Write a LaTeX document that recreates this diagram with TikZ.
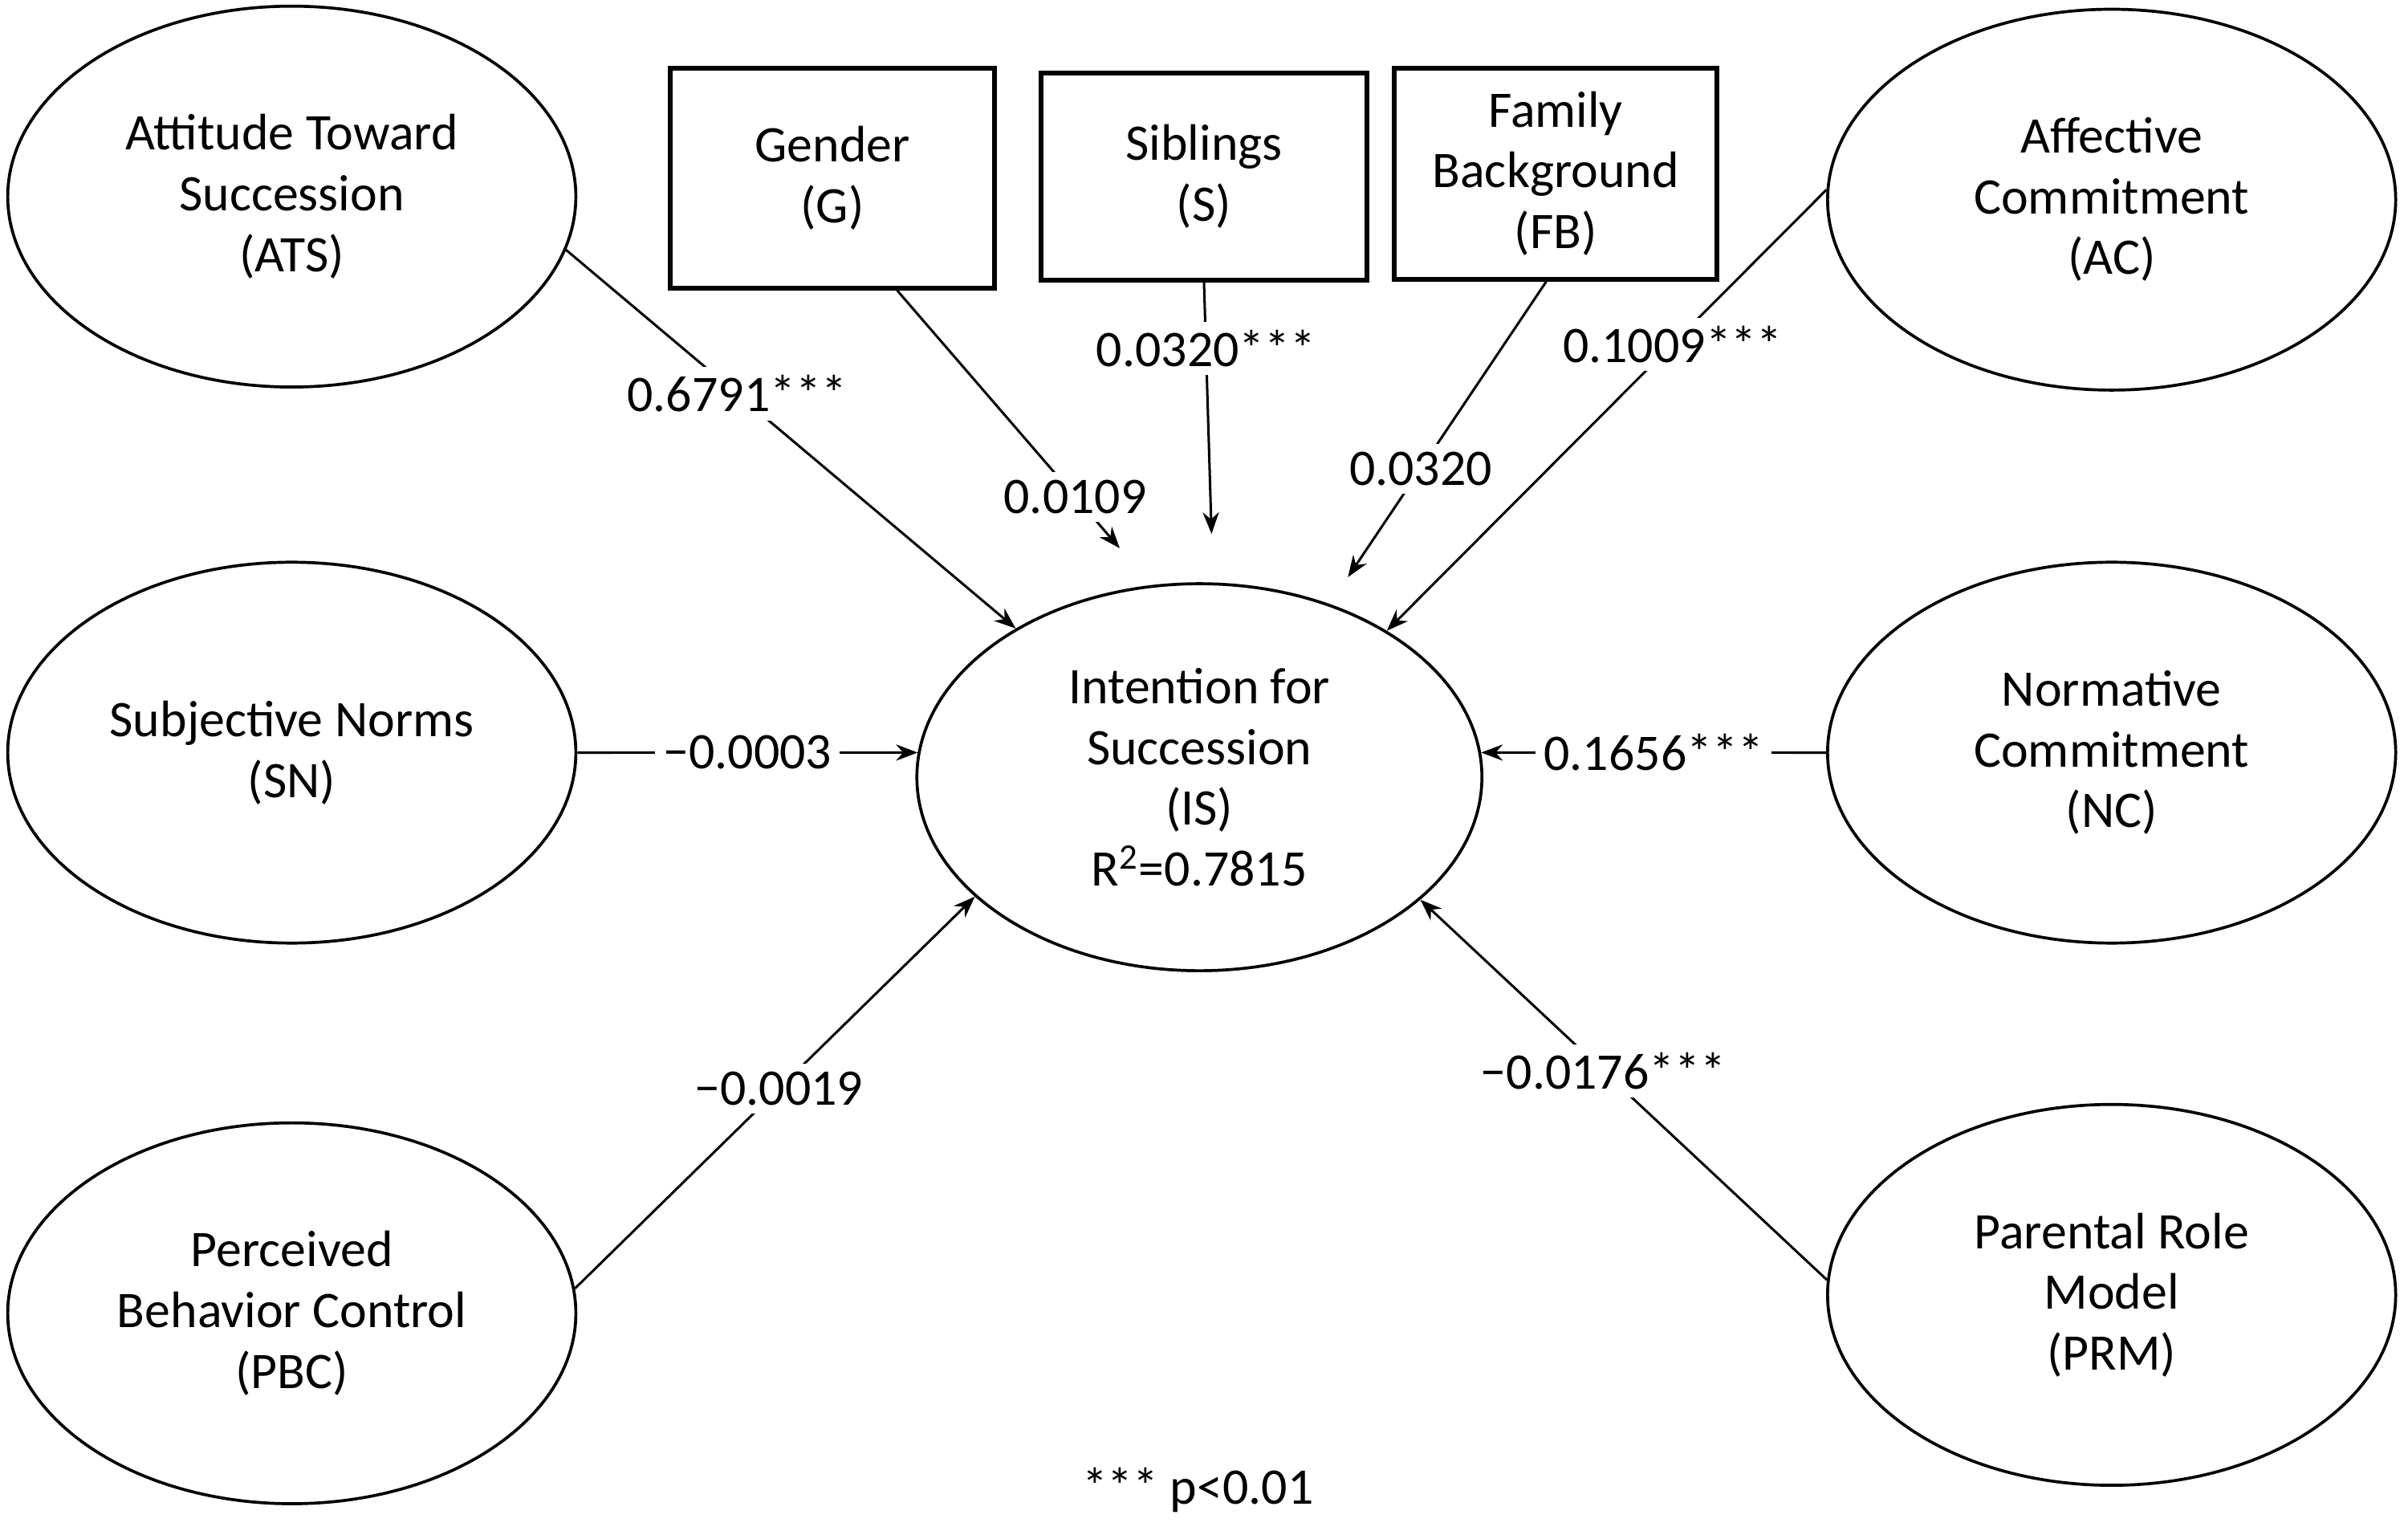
\documentclass[tikz,border=0pt]{standalone}
\usepackage{fontspec}
\setmainfont{Carlito}
\usetikzlibrary{shapes.geometric,arrows.meta}
\begin{document}
\begin{tikzpicture}[x=0.02cm,y=-0.02cm,
  every node/.style={font=\fontsize{19}{22.5}\selectfont,align=center},
  lat/.style={draw,ellipse,line width=1.1pt,minimum width=7.4cm,minimum height=4.96cm,inner sep=0pt},
  box/.style={draw,rectangle,line width=1.8pt,minimum width=4.2cm,minimum height=2.75cm,inner sep=0pt},
  path/.style={line width=0.9pt,-{Stealth[length=8pt,width=6pt]}},
  lab/.style={fill=white,inner sep=3pt}]
\useasboundingbox (0,0) rectangle (1568,999);
\node[lat] (ATS) at (190,128) {Attitude Toward\\Succession\\(ATS)};
\node[lat] (SN) at (190,490) {Subjective Norms\\(SN)};
\node[lat] (PBC) at (190,855) {Perceived\\Behavior Control\\(PBC)};
\node[lat] (AC) at (1375,130) {Affective\\Commitment\\(AC)};
\node[lat] (NC) at (1375,490) {Normative\\Commitment\\(NC)};
\node[lat] (PRM) at (1375,843) {Parental Role\\Model\\(PRM)};
\node[lat,minimum width=7.36cm,minimum height=5.04cm] (IS) at (781,506) {Intention for\\Succession\\(IS)\\R\textsuperscript{2}=0.7815};
\node[box,minimum width=4.22cm,minimum height=2.86cm] (G) at (542,116) {Gender\\(G)};
\node[box,minimum width=4.24cm,minimum height=2.7cm] (S) at (784,115) {Siblings\\(S)};
\node[box] (FB) at (1013,113) {Family\\Background\\(FB)};
\node (foot) at (780,970) {*** p{<}0.01};
\draw[path] (ATS.-11) -- node[lab,pos=0.38] {0.6791***} (IS.141);
\draw[path,shorten >=18pt] (G.-60) -- node[lab,pos=0.7] {0.0109} (IS.104);
\draw[path,shorten >=18pt] (S.south) -- node[lab,pos=0.22] {0.0320***} (IS.86);
\draw[path,shorten >=12pt] (FB.-95) -- node[lab,pos=0.58] {0.0320} (IS.53);
\draw[path] (AC.178) -- node[lab,pos=0.35] {0.1009***} (IS.38);
\draw[path] (SN.east) -- node[lab,pos=0.5] {−0.0003} (IS.175);
\draw[path] (NC.west) -- node[lab,pos=0.5] {0.1656***} (IS.5);
\draw[path] (PBC.5) -- node[lab,pos=0.51] {−0.0019} (IS.208);
\draw[path] (PRM.177) -- node[lab,pos=0.55] {−0.0176***} (IS.-29);
\end{tikzpicture}
\end{document}
